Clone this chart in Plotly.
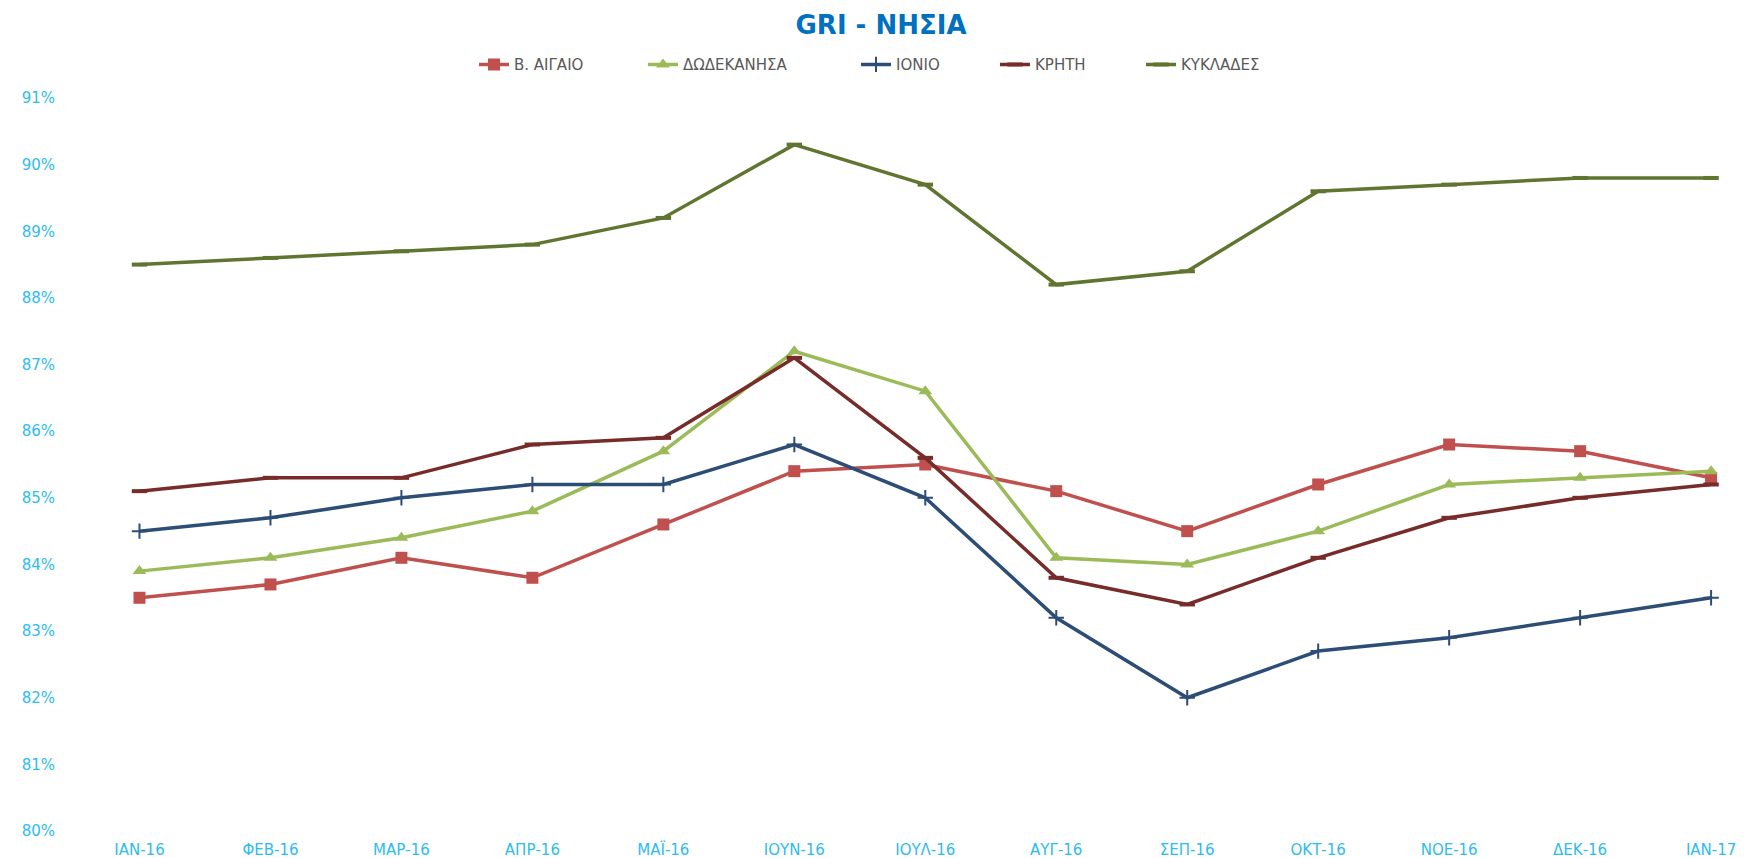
import plotly.graph_objects as go

months = ["ΙΑΝ-16", "ΦΕΒ-16", "ΜΑΡ-16", "ΑΠΡ-16", "ΜΑΪ-16", "ΙΟΥΝ-16", "ΙΟΥΛ-16",
          "ΑΥΓ-16", "ΣΕΠ-16", "ΟΚΤ-16", "ΝΟΕ-16", "ΔΕΚ-16", "ΙΑΝ-17"]

v_aigaio = [83.5, 83.7, 84.1, 83.8, 84.6, 85.4, 85.5, 85.1, 84.5, 85.2, 85.8, 85.7, 85.3]
dodekanisa = [83.9, 84.1, 84.4, 84.8, 85.7, 87.2, 86.6, 84.1, 84.0, 84.5, 85.2, 85.3, 85.4]
ionio = [84.5, 84.7, 85.0, 85.2, 85.2, 85.8, 85.0, 83.2, 82.0, 82.7, 82.9, 83.2, 83.5]
kriti = [85.1, 85.3, 85.3, 85.8, 85.9, 87.1, 85.6, 83.8, 83.4, 84.1, 84.7, 85.0, 85.2]
kyklades = [88.5, 88.6, 88.7, 88.8, 89.2, 90.3, 89.7, 88.2, 88.4, 89.6, 89.7, 89.8, 89.8]

y_ticks = [80, 81, 82, 83, 84, 85, 86, 87, 88, 89, 90, 91]

W, H = 1745, 858

series = [
    ("Β. ΑΙΓΑΙΟ", v_aigaio, "#C0504D", dict(symbol="square", size=12)),
    ("ΔΩΔΕΚΑΝΗΣΑ", dodekanisa, "#9BBB59", dict(symbol="triangle-up", size=12)),
    ("ΙΟΝΙΟ", ionio, "#2C4D75", dict(symbol="cross-thin-open", size=11, line=dict(width=2, color="#2C4D75"))),
    ("ΚΡΗΤΗ", kriti, "#772C2A", dict(symbol="line-ew-open", size=11, line=dict(width=4, color="#772C2A"))),
    ("ΚΥΚΛΑΔΕΣ", kyklades, "#5F7530", dict(symbol="line-ew-open", size=11, line=dict(width=4, color="#5F7530"))),
]
# left edge (px) of each legend entry
legend_left = [466, 635, 848, 987, 1133]

fig = go.Figure()
legend_defs = {}
for i, (name, vals, color, mk) in enumerate(series):
    m = dict(color=color, **mk)
    lg = "legend" if i == 0 else f"legend{i + 1}"
    fig.add_trace(go.Scatter(
        x=months, y=[v / 100 for v in vals], name=name, mode="lines+markers",
        line=dict(color=color, width=3.5), marker=m, legend=lg, showlegend=True,
    ))
    legend_defs[lg] = dict(
        x=legend_left[i] / W, xref="container", xanchor="left",
        y=0.934, yref="container", yanchor="middle",
        font=dict(family="DejaVu Sans", size=15, color="#595959"),
        bgcolor="rgba(0,0,0,0)", borderwidth=0,
    )

fig.update_layout(
    width=W, height=H, showlegend=True,
    paper_bgcolor="white", plot_bgcolor="white",
    margin=dict(l=66, r=0, t=90, b=35, autoexpand=False),
    title=dict(text="<b>GRI - ΝΗΣΙΑ</b>", x=0.5003, xanchor="center", y=0.980, yanchor="middle",
               font=dict(family="DejaVu Sans", size=26, color="#0070C0")),
    font=dict(family="DejaVu Sans"),
    **legend_defs,
)
fig.update_xaxes(
    type="category", range=[-0.5, 12.32], showgrid=False, showline=False, zeroline=False,
    ticks="", automargin=False, ticklabelstandoff=8,
    tickfont=dict(family="DejaVu Sans", size=15, color="#2EBCEF"),
)
fig.update_yaxes(
    range=[0.80, 0.91], tickvals=[t / 100 for t in y_ticks], tickformat=".0%",
    showgrid=False, showline=False, zeroline=False, ticks="", automargin=False,
    tickfont=dict(family="DejaVu Sans", size=15, color="#2EBCEF"), ticklabelstandoff=18,
)

fig.write_html("out.html")
